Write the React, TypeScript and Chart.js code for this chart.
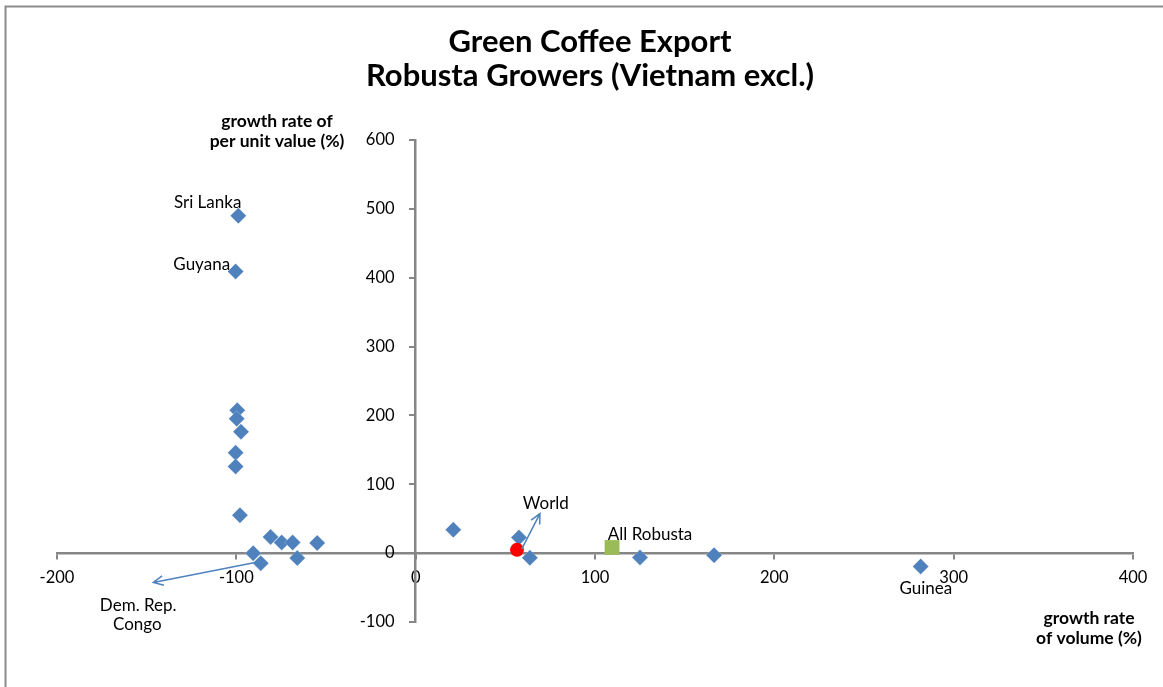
import React, { useEffect, useRef } from "react";
import { Chart, registerables } from "chart.js";

Chart.register(...registerables);

// ---- Data ----
const growerVolume = [
  -98.9, -100.4, -99.5, -99.8, -97.4, -100.4, -100.4, -98.0, -80.9, -74.7,
  -68.6, -54.9, -90.6, -86.4, -66.0, 21.0, 57.6, 63.7, 125.1, 166.4, 281.6,
];
const growerValue = [
  489.9, 409.1, 207.7, 195.2, 176.4, 145.9, 125.7, 55.1, 23.6, 15.5,
  15.5, 14.9, 0.0, -14.5, -7.2, 33.8, 22.7, -6.8, -6.3, -2.9, -19.3,
];
const worldVolume = [56.5];
const worldValue = [4.8];
const robustaVolume = [109.5];
const robustaValue = [8.2];

const xMin = -200;
const xMax = 400;
const yMin = -100;
const yMax = 600;
const tickStep = 100;

const titleLines = ["Green Coffee Export", "Robusta Growers (Vietnam excl.)"];
const yTitleLines = ["growth rate of", "per unit value (%)"];
const xTitleLines = ["growth rate", "of volume (%)"];

// point labels, anchored in data coordinates
const labelTexts = ["Sri Lanka", "Guyana", "World", "All Robusta", "Dem. Rep.", "Congo", "Guinea"];
const labelVolume = [-116.0, -119.3, 72.6, 130.7, -154.7, -155.2, 284.5];
const labelValue = [509.0, 419.8, 72.5, 27.5, -75.4, -104.3, -51.2];

// arrows (start -> tip) in data coordinates
const arrowFromVolume = [59.1, -89.5];
const arrowFromValue = [5.8, -13.5];
const arrowToVolume = [69.3, -146.3];
const arrowToValue = [57.5, -42.5];

const BLUE = "#4F81BD";
const RED = "#FF0000";
const GREEN = "#9BBB59";
const AXIS_GRAY = "#868686";
const FONT = "Lato, 'Open Sans', sans-serif";

const decorPlugin = {
  id: "decor",
  beforeDraw(chart: any) {
    const ctx = chart.ctx;
    ctx.save();
    ctx.fillStyle = "#ffffff";
    ctx.fillRect(0, 0, chart.width, chart.height);
    ctx.strokeStyle = "#8c8c8c";
    ctx.lineWidth = 2;
    ctx.beginPath();
    ctx.moveTo(5.5, chart.height);
    ctx.lineTo(5.5, 6.5);
    ctx.lineTo(chart.width, 6.5);
    ctx.stroke();
    ctx.restore();
  },
  afterDraw(chart: any) {
    const ctx = chart.ctx;
    const xs = chart.scales.x;
    const ys = chart.scales.y;
    ctx.save();
    ctx.fillStyle = "#000000";
    ctx.textBaseline = "alphabetic";

    // main title
    ctx.font = `bold 31px ${FONT}`;
    ctx.textAlign = "center";
    ctx.fillText(titleLines[0], 590, 52);
    ctx.fillText(titleLines[1], 590, 86);

    // axis titles
    ctx.font = `bold 17.5px ${FONT}`;
    ctx.textBaseline = "middle";
    ctx.fillText(yTitleLines[0], 277, 121);
    ctx.fillText(yTitleLines[1], 277, 141);
    ctx.fillText(xTitleLines[0], 1089, 618);
    ctx.fillText(xTitleLines[1], 1089, 638);

    // point labels
    ctx.font = `17px ${FONT}`;
    for (let i = 0; i < labelTexts.length; i++) {
      ctx.fillText(
        labelTexts[i],
        xs.getPixelForValue(labelVolume[i]),
        ys.getPixelForValue(labelValue[i])
      );
    }

    // arrows
    ctx.strokeStyle = BLUE;
    ctx.lineWidth = 1.5;
    for (let i = 0; i < arrowFromVolume.length; i++) {
      const x1 = xs.getPixelForValue(arrowFromVolume[i]);
      const y1 = ys.getPixelForValue(arrowFromValue[i]);
      const x2 = xs.getPixelForValue(arrowToVolume[i]);
      const y2 = ys.getPixelForValue(arrowToValue[i]);
      const ang = Math.atan2(y2 - y1, x2 - x1);
      const head = 11;
      const spread = 0.45;
      ctx.beginPath();
      ctx.moveTo(x1, y1);
      ctx.lineTo(x2, y2);
      ctx.moveTo(x2 - head * Math.cos(ang - spread), y2 - head * Math.sin(ang - spread));
      ctx.lineTo(x2, y2);
      ctx.lineTo(x2 - head * Math.cos(ang + spread), y2 - head * Math.sin(ang + spread));
      ctx.stroke();
    }
    ctx.restore();
  },
};

function toPoints(xv: number[], yv: number[]) {
  return xv.map((x, i) => ({ x, y: yv[i] }));
}

export default function App() {
  const canvasRef = useRef<HTMLCanvasElement | null>(null);

  useEffect(() => {
    const canvas = canvasRef.current;
    if (!canvas) return;
    const chart = new Chart(canvas, {
      type: "scatter",
      data: {
        datasets: [
          {
            label: "All Robusta",
            data: toPoints(robustaVolume, robustaValue),
            pointStyle: "rect",
            pointRadius: 10.5,
            pointHoverRadius: 10.5,
            backgroundColor: GREEN,
            borderColor: GREEN,
            borderWidth: 0,
          },
          {
            label: "World",
            data: toPoints(worldVolume, worldValue),
            pointStyle: "circle",
            pointRadius: 7,
            pointHoverRadius: 7,
            backgroundColor: RED,
            borderColor: RED,
            borderWidth: 0,
          },
          {
            label: "Robusta growers",
            data: toPoints(growerVolume, growerValue),
            pointStyle: "rectRot",
            pointRadius: 8,
            pointHoverRadius: 8,
            backgroundColor: BLUE,
            borderColor: "rgba(255,255,255,0.35)",
            borderWidth: 0.6,
          },
        ],
      },
      options: {
        responsive: false,
        animation: false,
        events: [],
        layout: { padding: { left: 57, right: 30, top: 140, bottom: 65 } },
        plugins: {
          legend: { display: false },
          title: { display: false },
          tooltip: { enabled: false },
        },
        scales: {
          x: {
            type: "linear",
            position: { y: 0 } as any,
            min: xMin,
            max: xMax,
            afterFit: (s: any) => {
              s.height = 0;
            },
            ticks: {
              stepSize: tickStep,
              color: "#000000",
              font: { family: FONT, size: 16.5 },
              padding: 10,
              maxRotation: 0,
              autoSkip: false,
            },
            grid: {
              display: true,
              drawOnChartArea: false,
              drawTicks: true,
              tickLength: 5,
              color: AXIS_GRAY,
              lineWidth: 2,
            },
            border: { display: true, color: AXIS_GRAY, width: 2.5 },
          },
          y: {
            type: "linear",
            position: { x: 0 } as any,
            min: yMin,
            max: yMax,
            afterFit: (s: any) => {
              s.width = 0;
            },
            ticks: {
              stepSize: tickStep,
              color: "#000000",
              font: { family: FONT, size: 16.5 },
              autoSkip: false,
              // labels of an axis placed at x = 0 are not offset by Chart.js, so pad them
              callback: (v: any) => `${v}     `,
            },
            grid: {
              display: true,
              drawOnChartArea: false,
              drawTicks: true,
              tickLength: 5,
              color: AXIS_GRAY,
              lineWidth: 2,
            },
            border: { display: true, color: AXIS_GRAY, width: 2.5 },
          },
        },
      },
      plugins: [decorPlugin],
    });
    return () => chart.destroy();
  }, []);

  return (
    <div style={{ position: "absolute", left: 0, top: 0, width: 1163, height: 687 }}>
      <canvas ref={canvasRef} width={1163} height={687} style={{ display: "block" }} />
    </div>
  );
}
